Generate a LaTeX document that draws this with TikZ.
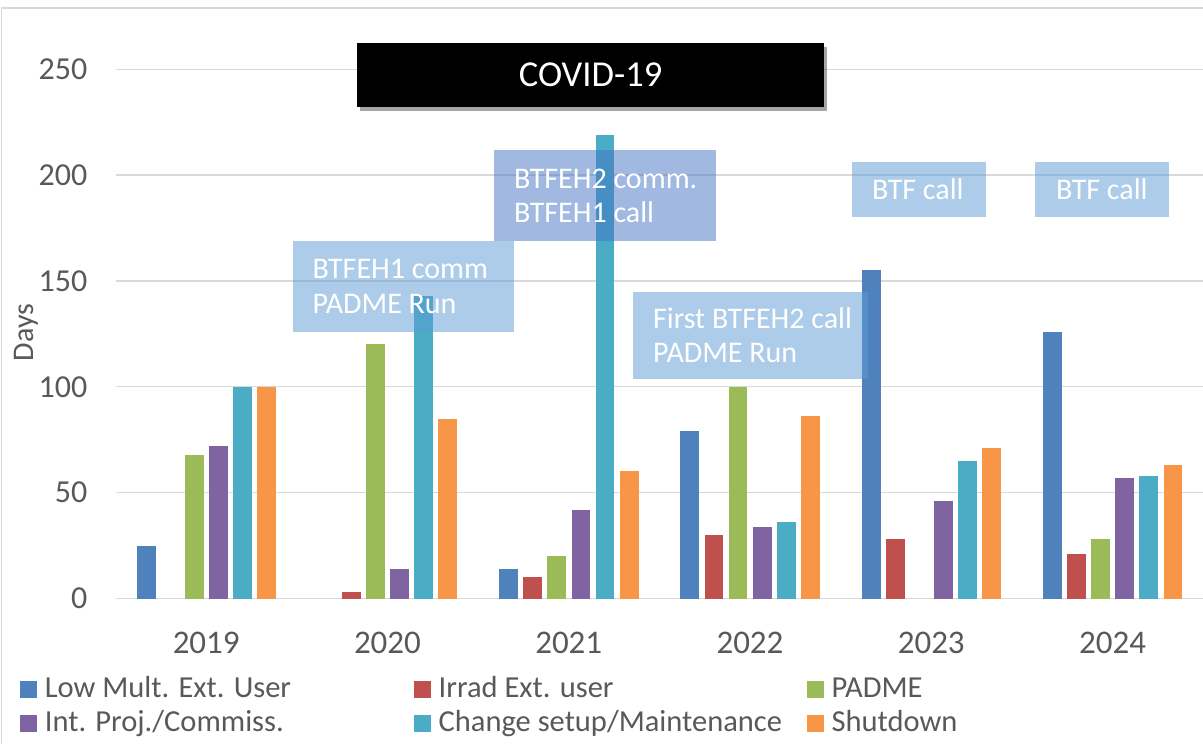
\documentclass[tikz,border=0pt]{standalone}
\usepackage{fontspec}
\setmainfont{Carlito}
\usetikzlibrary{shadows}
\definecolor{s0}{HTML}{4F81BD}
\definecolor{s1}{HTML}{C0504D}
\definecolor{s2}{HTML}{9BBB59}
\definecolor{s3}{HTML}{8064A2}
\definecolor{s4}{HTML}{4BACC6}
\definecolor{s5}{HTML}{F79646}
\definecolor{txtgray}{HTML}{595959}
\definecolor{gridgray}{HTML}{D9D9D9}
\definecolor{annotA}{HTML}{5B9BD5}
\definecolor{annotB}{HTML}{4472C4}
\begin{document}
\begin{tikzpicture}[x=1pt,y=-1pt,
  gridline/.style={gridgray, line width=1.3pt},
  tick/.style={anchor=east, inner sep=0pt, text=txtgray, font=\fontsize{32}{38}\selectfont},
  cat/.style={anchor=base, inner sep=0pt, text=txtgray, font=\fontsize{33}{40}\selectfont},
  legsq/.style={minimum size=17pt, inner sep=0pt, draw=none},
  legtxt/.style={anchor=base west, inner sep=0pt, text=txtgray, font=\fontsize{30.5}{36}\selectfont},
  boxA/.style={fill=annotA, fill opacity=0.5, draw=none, inner sep=0pt, anchor=north west},
  boxB/.style={fill=annotB, fill opacity=0.5, draw=none, inner sep=0pt, anchor=north west},
  annottxt/.style={anchor=west, inner sep=0pt, align=left, text=white, font=\fontsize{30}{34.3}\selectfont},
  covid/.style={fill=black, inner sep=0pt, anchor=north west, text=white, font=\fontsize{36.5}{42}\selectfont,
    drop shadow={shadow xshift=3pt, shadow yshift=-4pt, opacity=0.35, fill=black}}
]
\useasboundingbox (0,0) rectangle (1203,744);
\fill[white] (0,0) rectangle (1203,744);
% chart border
\draw[gridgray, line width=1.2pt] (1.5,744) -- (1.5,8) -- (1203,8);
% gridlines and tick labels
\foreach \j/\lab in {0/0,1/50,2/100,3/150,4/200,5/250} {
  \draw[gridline] (115.6,{598.5-105.85*\j}) -- (1203,{598.5-105.85*\j});
  \node[tick] (y\j) at (87.5,{598.5-105.85*\j}) {\lab};
}
% bars
\foreach \vals [count=\i from 0] in {{25,0,68,72,100,100},{0,3,120,14,143,85},{14,10,20,42,219,60},{79,30,100,34,36,86},{155,28,0,46,65,71},{126,21,28,57,58,63}} {
  \foreach \v [count=\k from 0] in \vals {
    \ifnum\v>0
      \fill[s\k] ({136.7+181.26*\i+24.1*\k},598.5) rectangle ++(18.8,{-2.117*\v});
    \fi
  }
}
% category labels
\foreach \yr [count=\i from 0] in {2019,2020,2021,2022,2023,2024}
  \node[cat] (c\yr) at ({206.2+181.26*\i},653) {\yr};
% axis title
\node[rotate=90, anchor=base, inner sep=0pt, text=txtgray, font=\fontsize{30}{36}\selectfont] (days) at (33.3,332.5) {Days};
% annotation boxes
\node[boxA, minimum width=221pt, minimum height=90.7pt] (b1) at (292.3,241) {};
\node[annottxt] (t1) at ([xshift=20pt]b1.west) {BTFEH1 comm\\PADME Run};
\node[boxB, minimum width=222pt, minimum height=90.7pt] (b2) at (494,150) {};
\node[annottxt] (t2) at ([xshift=20pt]b2.west) {BTFEH2 comm.\\BTFEH1 call};
\node[boxA, minimum width=234.7pt, minimum height=87pt] (b3) at (633,291.3) {};
\node[annottxt] (t3) at ([xshift=20pt]b3.west) {First BTFEH2 call\\PADME Run};
\node[boxA, minimum width=134pt, minimum height=54.7pt] (b4) at (852,162) {};
\node[annottxt] (t4) at ([xshift=20pt]b4.west) {BTF call};
\node[boxA, minimum width=134pt, minimum height=54.7pt] (b5) at (1035,162) {};
\node[annottxt] (t5) at ([xshift=21pt]b5.west) {BTF call};
% COVID banner
\node[covid, minimum width=467.3pt, minimum height=64.4pt] (cov) at (356.7,42.3) {COVID-19};
% legend
\node[legsq, fill=s0] (l0) at (28.5,689.2) {};
\node[legtxt] (lt0) at (44.7,697.3) {Low Mult. Ext. User};
\node[legsq, fill=s1] (l1) at (422.7,689.2) {};
\node[legtxt] (lt1) at (438.5,697.3) {Irrad Ext. user};
\node[legsq, fill=s2] (l2) at (815.8,689.2) {};
\node[legtxt] (lt2) at (831.5,697.3) {PADME};
\node[legsq, fill=s3] (l3) at (28.5,723.2) {};
\node[legtxt] (lt3) at (44.7,731.7) {Int. Proj./Commiss.};
\node[legsq, fill=s4] (l4) at (422.7,723.2) {};
\node[legtxt] (lt4) at (438.5,731.7) {Change setup/Maintenance};
\node[legsq, fill=s5] (l5) at (815.8,723.2) {};
\node[legtxt] (lt5) at (831.5,731.7) {Shutdown};
\end{tikzpicture}
\end{document}
